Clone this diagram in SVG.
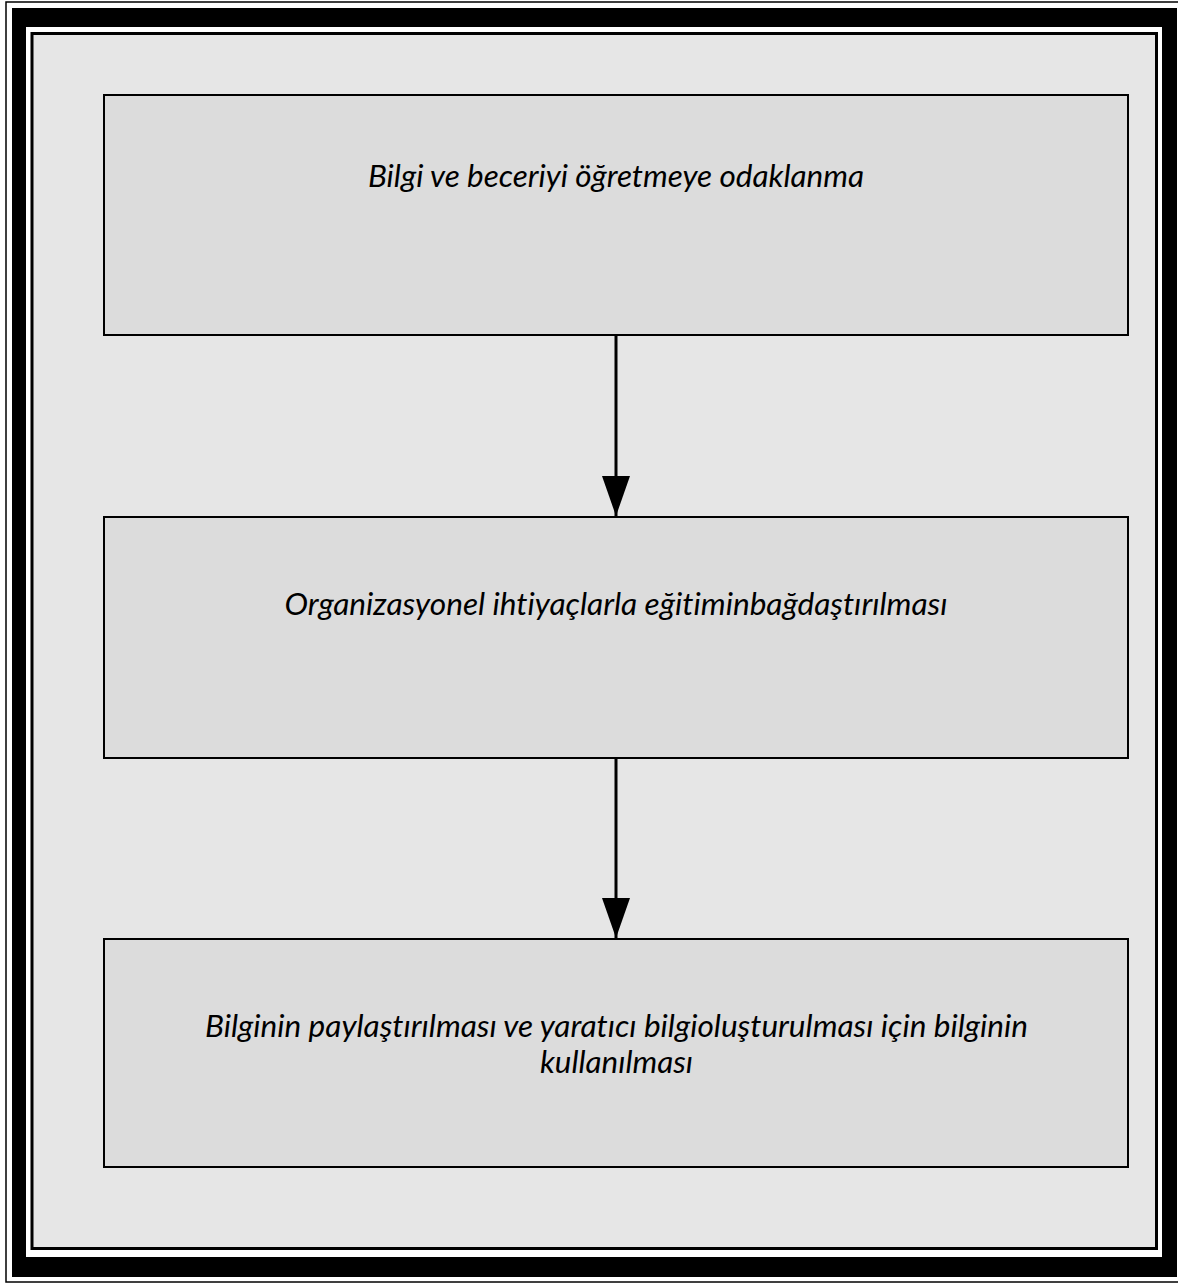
<svg xmlns="http://www.w3.org/2000/svg" width="1178" height="1285" viewBox="0 0 1178 1285">
<defs>
<style>
.node rect{fill:#dcdcdc;stroke:#000;stroke-width:2}
.node text{font-family:Lato,"Open Sans","Liberation Sans",sans-serif;font-style:italic;font-size:30px;font-variant-ligatures:none;fill:#000;text-anchor:middle}
.edge{stroke:#000;stroke-width:3;fill:none}
</style>
<marker id="arr" markerUnits="userSpaceOnUse" markerWidth="40" markerHeight="28" refX="40" refY="14" orient="auto" viewBox="0 0 40 28">
<path d="M0,0 L40,14 L0,28 Z" fill="#000"/>
</marker>
</defs>
<rect x="0" y="0" width="1178" height="1285" fill="#fff"/>
<g id="frame">
<rect x="6" y="2" width="1180" height="1280" fill="none" stroke="#000" stroke-width="1.5"/>
<path d="M12,8 H1177 V1277 H12 Z M26,27 V1257 H1162 V27 Z" fill="#000" fill-rule="evenodd"/>
<rect x="32" y="33.5" width="1124.5" height="1215" fill="#e6e6e6" stroke="#000" stroke-width="3"/>
</g>
<g id="connectors">
<path class="edge" d="M616,336 V516" marker-end="url(#arr)"/>
<path class="edge" d="M616,759 V938" marker-end="url(#arr)"/>
</g>
<g id="node1" class="node">
<rect x="104" y="95" width="1024" height="240"/>
<text x="616" y="187" textLength="496" lengthAdjust="spacingAndGlyphs">Bilgi ve beceriyi öğretmeye odaklanma</text>
</g>
<g id="node2" class="node">
<rect x="104" y="517" width="1024" height="241"/>
<text x="616" y="615" textLength="663" lengthAdjust="spacingAndGlyphs">Organizasyonel ihtiyaçlarla eğitiminbağdaştırılması</text>
</g>
<g id="node3" class="node">
<rect x="104" y="939" width="1024" height="228"/>
<text x="616.5" y="1037" textLength="823" lengthAdjust="spacingAndGlyphs">Bilginin paylaştırılması ve yaratıcı bilgioluşturulması için bilginin</text>
<text x="616.5" y="1073" textLength="153" lengthAdjust="spacingAndGlyphs">kullanılması</text>
</g>
</svg>
